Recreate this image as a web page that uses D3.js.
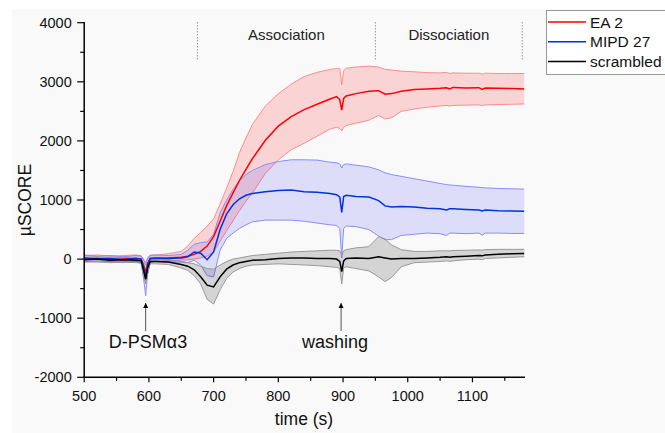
<!DOCTYPE html>
<html><head><meta charset="utf-8">
<script src="https://cdn.jsdelivr.net/npm/d3@7/dist/d3.min.js"></script>
<style>
html,body{margin:0;padding:0;background:#fff;}
svg{display:block;font-family:"Liberation Sans",Arial,sans-serif;}
</style></head>
<body>
<svg id="c" width="665" height="433"></svg>
<script>
const time = [500,520,540,560,580,588,592,595,598,602,610,630,650,660,670,680,690,700,710,720,730,740,750,760,780,800,820,840,860,880,890,895,898,901,905,920,940,955,965,975,990,1010,1030,1050,1060,1065,1070,1090,1110,1115,1120,1140,1160,1180];

const ea2Mean = [0,10,-10,0,10,0,-120,-220,-80,10,10,20,30,50,80,130,220,380,640,900,1120,1330,1520,1700,2010,2250,2410,2530,2620,2710,2750,2700,2520,2720,2760,2800,2840,2850,2790,2800,2840,2870,2880,2890,2900,2880,2905,2895,2900,2870,2895,2890,2885,2880];
const ea2Hi = [60,70,50,60,70,60,0,-60,20,70,70,90,130,220,350,450,560,680,930,1200,1480,1800,2050,2280,2590,2800,2960,3090,3160,3210,3225,3220,2950,3190,3230,3250,3265,3250,3210,3200,3180,3170,3155,3150,3160,3140,3150,3145,3145,3130,3145,3140,3140,3140];
const ea2Lo = [-50,-40,-60,-50,-40,-60,-250,-360,-170,-50,-40,-30,-20,-10,0,20,50,120,300,480,650,820,980,1120,1450,1680,1850,1960,2080,2200,2230,2210,2170,2230,2260,2300,2350,2430,2370,2390,2500,2540,2570,2590,2600,2590,2600,2605,2610,2595,2610,2615,2620,2625];

const mipdMean = [20,0,10,-10,10,0,-150,-330,-100,10,20,10,20,40,120,100,-10,120,500,760,920,1020,1080,1110,1140,1160,1170,1140,1130,1110,1090,1050,790,1060,1080,1060,1050,990,900,880,890,880,860,850,830,850,850,840,830,815,830,820,815,810];
const mipdHi = [70,50,60,40,60,50,-20,-100,20,60,70,60,80,150,250,280,290,420,780,1000,1180,1330,1430,1500,1600,1650,1680,1680,1675,1640,1630,1610,1540,1600,1610,1590,1560,1510,1460,1430,1400,1360,1320,1280,1260,1255,1250,1230,1215,1210,1205,1195,1190,1185];
const mipdLo = [-40,-50,-40,-60,-40,-60,-350,-620,-250,-50,-40,-50,-50,-60,-20,-100,-280,-300,150,350,440,520,580,630,660,660,660,640,610,580,570,520,20,520,560,550,500,390,330,330,400,420,440,430,400,440,440,430,440,405,440,440,435,435];

const scrMean = [-10,0,-20,-10,-20,-30,-200,-340,-150,-40,-40,-50,-90,-120,-180,-300,-440,-470,-300,-170,-100,-60,-40,-20,-10,10,20,20,10,10,0,-40,-210,-30,10,20,10,40,20,0,10,10,20,30,40,30,40,50,60,55,70,80,90,95];
const scrHi = [30,40,20,30,20,10,-80,-200,-60,0,0,-10,-40,-60,-80,-120,-160,-170,-100,-40,0,20,40,60,80,100,120,130,140,150,150,140,60,140,160,190,210,380,340,240,160,130,130,140,140,140,145,150,155,150,160,165,165,165];
const scrLo = [-50,-40,-60,-50,-60,-70,-300,-420,-250,-80,-80,-90,-150,-190,-280,-420,-680,-760,-520,-330,-220,-160,-120,-100,-90,-80,-90,-100,-110,-130,-140,-160,-420,-150,-130,-160,-200,-300,-380,-310,-130,-60,-50,-40,-30,-40,-30,-10,0,-10,10,20,30,40];

const seriesNames = ["EA 2","MIPD 27","scrambled"];
const xTicks = [500,600,700,800,900,1000,1100];
const yTicks = [-2000,-1000,0,1000,2000,3000,4000];
const phaseBounds = [675,950,1177];
const phaseLabels = ["Association","Dissociation"];
const eventTimes = [595,897];
const eventLabels = ["D-PSMα3","washing"];

const svg = d3.select("#c");
svg.append("rect").attr("x",12).attr("y",9).attr("width",653).attr("height",424).attr("fill","#f9f9f9");

const x = d3.scaleLinear().domain([500,1180]).range([84.2,524.2]);
const y = d3.scaleLinear().domain([-2000,4000]).range([377.3,22.7]);

const styles = [
  {line:"#ff0000", fill:"rgba(255,0,0,0.15)", edge:"#ff8c8c"},
  {line:"#0033dd", fill:"rgba(60,60,255,0.15)", edge:"#8a8cff"},
  {line:"#000000", fill:"rgba(0,0,0,0.15)", edge:"#999999"}
];
const data = [
  {mean:ea2Mean, hi:ea2Hi, lo:ea2Lo},
  {mean:mipdMean, hi:mipdHi, lo:mipdLo},
  {mean:scrMean, hi:scrHi, lo:scrLo}
];

const area = d3.area().x((d,i)=>x(time[i])).y0(d=>y(d[0])).y1(d=>y(d[1]));
const line = d3.line().x((d,i)=>x(time[i])).y(d=>y(d));

const g = svg.append("g");
data.forEach((s,k)=>{
  const pts = time.map((t,i)=>[s.lo[i], s.hi[i]]);
  g.append("path").attr("d",area(pts)).attr("fill",styles[k].fill).attr("stroke","none");
  g.append("path").attr("d",line(s.hi)).attr("fill","none").attr("stroke",styles[k].edge).attr("stroke-width",1);
  g.append("path").attr("d",line(s.lo)).attr("fill","none").attr("stroke",styles[k].edge).attr("stroke-width",1);
});
data.forEach((s,k)=>{
  g.append("path").attr("d",line(s.mean)).attr("fill","none").attr("stroke",styles[k].line).attr("stroke-width",1.5);
});

// phase dashed lines
phaseBounds.forEach(t=>{
  svg.append("line").attr("x1",x(t)).attr("x2",x(t)).attr("y1",22).attr("y2",61)
    .attr("stroke","#999").attr("stroke-width",1).attr("stroke-dasharray","1.5,1.5");
});
phaseLabels.forEach((lab,i)=>{
  svg.append("text").attr("x",(x(phaseBounds[i])+x(phaseBounds[i+1]))/2).attr("y",40)
    .attr("text-anchor","middle").attr("font-size","15px").attr("fill","#222").text(lab);
});

// event arrows
const defs = svg.append("defs");
defs.append("marker").attr("id","ah").attr("viewBox","0 0 10 10").attr("refX",10).attr("refY",5)
  .attr("markerWidth",5).attr("markerHeight",8).attr("orient","auto").attr("markerUnits","userSpaceOnUse")
  .append("path").attr("d","M0,0L10,5L0,10Z").attr("fill","#000");
const labelCx = [148,335];
eventTimes.forEach((t,i)=>{
  svg.append("line").attr("x1",x(t)).attr("x2",x(t)).attr("y1",331).attr("y2",303)
    .attr("stroke","#555").attr("stroke-width",1).attr("marker-end","url(#ah)");
  svg.append("text").attr("x",labelCx[i]).attr("y",348).attr("text-anchor","middle")
    .attr("font-size","18px").attr("fill","#111").text(eventLabels[i]);
});

// axes
const xAxis = svg.append("g").attr("transform","translate(0,377.3)");
xAxis.append("line").attr("x1",83.5).attr("x2",525).attr("stroke","#000").attr("stroke-width",1.5);
d3.range(500,1181,50).forEach(v=>{
  const major = v%100===0;
  xAxis.append("line").attr("x1",x(v)).attr("x2",x(v)).attr("y1",0).attr("y2",major?5:3.5)
    .attr("stroke","#000").attr("stroke-width",1.2);
});
xAxis.selectAll("text.t").data(xTicks).join("text").attr("class","t")
  .attr("x",d=>x(d)).attr("y",24).attr("text-anchor","middle").attr("font-size","14.5px").attr("fill","#111").text(d=>d);

const yAxis = svg.append("g").attr("transform","translate(84.2,0)");
yAxis.append("line").attr("y1",22).attr("y2",378).attr("stroke","#000").attr("stroke-width",1.5);
d3.range(-2000,4001,500).forEach(v=>{
  const major = v%1000===0;
  yAxis.append("line").attr("y1",y(v)).attr("y2",y(v)).attr("x1",0).attr("x2",major?-7:-4)
    .attr("stroke","#000").attr("stroke-width",1.2);
});
yAxis.selectAll("text.t").data(yTicks).join("text").attr("class","t")
  .attr("x",-12.5).attr("y",d=>y(d)+5).attr("text-anchor","end").attr("font-size","14.5px").attr("fill","#111").text(d=>d);

svg.append("text").attr("transform","translate(31,200) rotate(-90)").attr("text-anchor","middle")
  .attr("font-size","17.5px").attr("fill","#111").text("µSCORE");
svg.append("text").attr("x",304).attr("y",425).attr("text-anchor","middle")
  .attr("font-size","17.5px").attr("fill","#111").text("time (s)");

// legend
const lg = svg.append("g");
lg.append("rect").attr("x",546.5).attr("y",10.5).attr("width",130).attr("height",64).attr("fill","#fff").attr("stroke","#999");
seriesNames.forEach((n,i)=>{
  const yy = 22 + i*19.8;
  lg.append("line").attr("x1",548).attr("x2",586).attr("y1",yy).attr("y2",yy).attr("stroke",styles[i].line).attr("stroke-width",1.5);
  lg.append("text").attr("x",590).attr("y",yy+5.5).attr("font-size","15.5px").attr("fill","#111").text(n);
});
</script>
</body></html>
